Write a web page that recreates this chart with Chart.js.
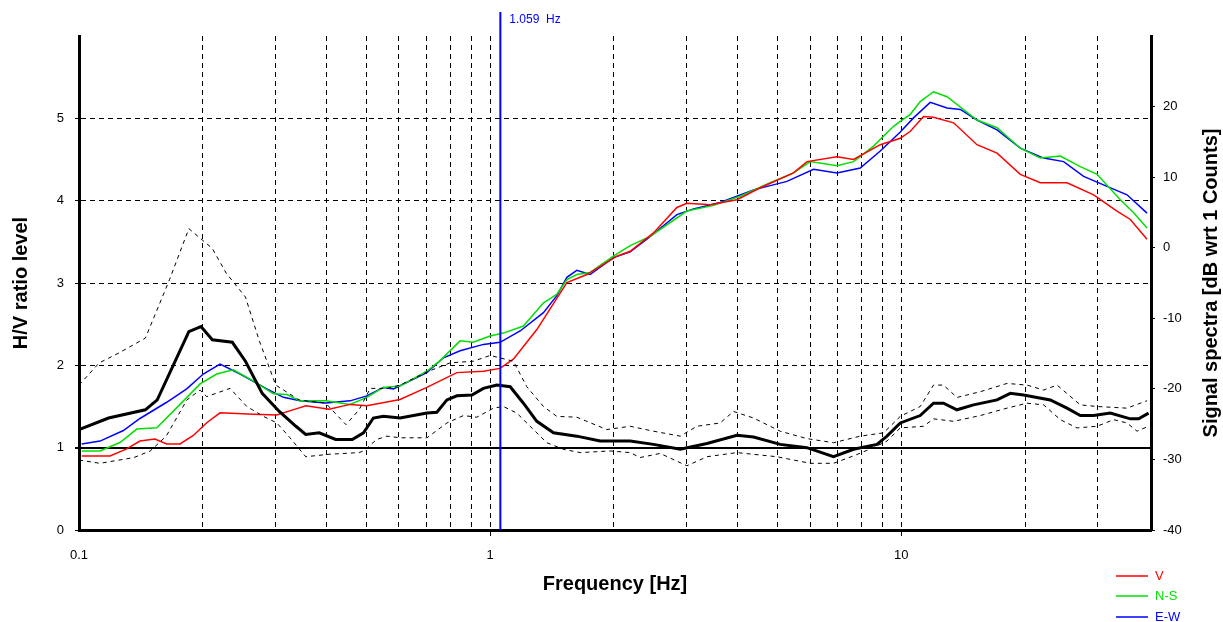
<!DOCTYPE html>
<html>
<head>
<meta charset="utf-8">
<script src="https://cdn.jsdelivr.net/npm/chart.js@4.4.0/dist/chart.umd.min.js"></script>
<style>
  html, body { margin: 0; padding: 0; background: #fff; }
</style>
</head>
<body>
<canvas id="myChart" width="1223" height="622"></canvas>
<script>
// H/V peak marker
const markerFreq = 1.059;

// axis ticks
const xTicks = [0.1, 0.2, 0.3, 0.4, 0.5, 0.6, 0.7, 0.8, 0.9, 1, 2, 3, 4, 5, 6, 7, 8, 9, 10, 20, 30];
const xLabels = [0.1, 1, 10];
const hvTicks = [0, 1, 2, 3, 4, 5, 6];
const dbTicks = [-40, -30, -20, -10, 0, 10, 20, 30];

// H/V ratio (mean) and its +/- std curves
const hvFreq = [0.100, 0.118, 0.145, 0.155, 0.185, 0.198, 0.211, 0.236, 0.254, 0.279, 0.307, 0.337, 0.356, 0.384, 0.421, 0.462, 0.492, 0.520, 0.550, 0.604, 0.702, 0.742, 0.785, 0.830, 0.903, 0.963, 1.038, 1.119, 1.205, 1.299, 1.426, 1.625, 1.852, 2.191, 2.496, 2.900, 3.369, 3.983, 4.372, 5.077, 5.897, 6.844, 7.655, 8.727, 9.231, 9.945, 11.12, 11.98, 12.67, 13.66, 14.99, 17.10, 18.42, 19.84, 23.04, 25.30, 27.26, 29.37, 32.25, 36.07, 37.79, 39.96];
const hvMean = [1.22, 1.36, 1.46, 1.58, 2.41, 2.47, 2.31, 2.28, 2.05, 1.66, 1.44, 1.26, 1.16, 1.18, 1.10, 1.10, 1.18, 1.36, 1.38, 1.36, 1.42, 1.43, 1.58, 1.63, 1.64, 1.72, 1.76, 1.74, 1.54, 1.32, 1.18, 1.14, 1.08, 1.08, 1.04, 0.98, 1.05, 1.15, 1.13, 1.04, 1.00, 0.89, 0.98, 1.04, 1.14, 1.30, 1.39, 1.54, 1.54, 1.46, 1.52, 1.58, 1.66, 1.64, 1.58, 1.48, 1.39, 1.39, 1.42, 1.35, 1.35, 1.42];

const upFreq = [0.100, 0.112, 0.125, 0.145, 0.166, 0.185, 0.211, 0.228, 0.254, 0.274, 0.301, 0.343, 0.398, 0.446, 0.480, 0.511, 0.561, 0.604, 0.702, 0.799, 0.911, 1.000, 1.139, 1.228, 1.348, 1.453, 1.625, 1.922, 2.191, 2.496, 2.900, 3.184, 3.627, 3.908, 4.372, 5.077, 5.897, 6.844, 7.948, 9.057, 9.945, 11.12, 11.98, 12.67, 13.66, 15.57, 18.08, 20.22, 22.20, 23.93, 27.26, 29.94, 35.41, 39.61];
const hvUpper = [1.76, 2.03, 2.15, 2.33, 3.04, 3.66, 3.42, 3.12, 2.83, 2.31, 1.76, 1.58, 1.54, 1.28, 1.46, 1.72, 1.72, 1.76, 1.92, 2.03, 2.05, 2.12, 2.05, 1.74, 1.50, 1.38, 1.37, 1.22, 1.26, 1.20, 1.14, 1.26, 1.30, 1.44, 1.36, 1.20, 1.11, 1.06, 1.14, 1.18, 1.38, 1.50, 1.76, 1.76, 1.61, 1.68, 1.78, 1.76, 1.70, 1.76, 1.52, 1.50, 1.48, 1.57];

const loFreq = [0.100, 0.1125, 0.136, 0.149, 0.163, 0.183, 0.197, 0.2045, 0.233, 0.256, 0.281, 0.303, 0.326, 0.356, 0.406, 0.480, 0.492, 0.530, 0.561, 0.604, 0.702, 0.785, 0.861, 0.928, 1.019, 1.077, 1.161, 1.251, 1.374, 1.508, 1.656, 1.959, 2.191, 2.317, 2.592, 3.010, 3.369, 3.983, 4.984, 6.006, 6.844, 7.655, 8.563, 9.231, 9.945, 11.33, 11.98, 13.41, 15.57, 18.08, 20.22, 22.20, 24.37, 26.76, 29.94, 32.85, 35.41, 37.45, 39.96];
const hvLower = [0.85, 0.81, 0.88, 0.96, 1.14, 1.58, 1.70, 1.62, 1.72, 1.50, 1.38, 1.30, 1.12, 0.89, 0.92, 0.94, 0.96, 1.10, 1.14, 1.12, 1.12, 1.30, 1.39, 1.37, 1.48, 1.50, 1.42, 1.26, 1.06, 0.98, 0.94, 0.96, 0.94, 0.88, 0.93, 0.78, 0.89, 0.94, 0.89, 0.81, 0.81, 0.90, 1.00, 1.08, 1.24, 1.26, 1.35, 1.32, 1.39, 1.48, 1.54, 1.52, 1.34, 1.24, 1.26, 1.34, 1.30, 1.20, 1.26];

// signal spectra [dB] per component
const vFreq = [0.1015, 0.119, 0.1306, 0.1407, 0.153, 0.1634, 0.1761, 0.1897, 0.2045, 0.2203, 0.2656, 0.3026, 0.3387, 0.3562, 0.4058, 0.4565, 0.5012, 0.6039, 0.7015, 0.8299, 0.9632, 1.057, 1.139, 1.299, 1.537, 1.719, 2.034, 2.191, 2.496, 2.847, 3.010, 3.431, 3.983, 4.539, 5.470, 5.897, 6.976, 7.655, 8.891, 9.945, 10.52, 11.33, 11.98, 13.41, 15.28, 17.10, 19.48, 21.79, 25.30, 29.37, 33.48, 36.07, 39.61];
const vSpec = [-29.5, -29.5, -28.5, -27.4, -27.1, -27.8, -27.8, -26.6, -24.8, -23.4, -23.6, -23.7, -22.8, -22.4, -22.9, -22.2, -22.4, -21.5, -19.8, -17.7, -17.5, -17.1, -15.8, -11.6, -4.95, -3.8, -1.2, -0.5, 2.1, 5.7, 6.3, 6.1, 6.8, 8.5, 10.6, 12.2, 12.9, 12.5, 14.6, 15.5, 16.5, 18.6, 18.5, 17.7, 14.6, 13.4, 10.4, 9.2, 9.2, 7.5, 5.2, 4.0, 1.2];

const nsFreq = [0.1015, 0.1125, 0.1258, 0.1382, 0.1546, 0.1761, 0.197, 0.2163, 0.2374, 0.2656, 0.297, 0.3202, 0.345, 0.3984, 0.4565, 0.5012, 0.55, 0.6039, 0.7015, 0.7557, 0.8453, 0.9108, 1.0, 1.077, 1.205, 1.348, 1.453, 1.537, 1.625, 1.751, 1.995, 2.191, 2.451, 3.010, 3.495, 4.058, 4.800, 5.470, 6.006, 6.976, 7.655, 8.563, 9.579, 9.945, 10.52, 11.12, 11.98, 12.92, 15.28, 17.10, 19.48, 21.79, 24.37, 27.26, 29.94, 34.11, 36.75, 39.61];
const nsSpec = [-28.8, -28.8, -27.6, -25.7, -25.5, -22.2, -19.3, -17.9, -17.3, -18.9, -20.7, -20.8, -21.7, -21.7, -22.2, -21.2, -19.8, -19.6, -17.5, -16.0, -13.2, -13.4, -12.5, -12.1, -11.1, -7.8, -6.6, -4.5, -3.8, -3.5, -1.2, 0.3, 1.6, 5.2, 6.0, 7.3, 9.2, 10.6, 12.2, 11.6, 12.2, 14.4, 17.2, 17.9, 18.9, 20.7, 22.1, 21.4, 18.1, 17.0, 14.1, 12.7, 13.0, 11.5, 10.4, 6.8, 4.95, 2.8];

const ewFreq = [0.1015, 0.1125, 0.1282, 0.1407, 0.1634, 0.1828, 0.2006, 0.2203, 0.2465, 0.2863, 0.3141, 0.345, 0.3984, 0.4565, 0.5012, 0.55, 0.5817, 0.7015, 0.7699, 0.8453, 0.9632, 1.057, 1.183, 1.348, 1.453, 1.537, 1.625, 1.751, 1.995, 2.191, 2.406, 2.847, 3.124, 3.627, 4.372, 5.271, 6.118, 6.976, 7.948, 8.891, 9.945, 10.71, 11.76, 12.92, 13.92, 15.28, 17.10, 19.48, 22.20, 24.83, 27.77, 31.66, 35.41, 39.61];
const ewSpec = [-27.8, -27.4, -25.9, -24.2, -21.9, -20.0, -17.9, -16.5, -17.9, -20.0, -21.2, -21.7, -22.0, -21.7, -21.0, -19.8, -20.0, -17.7, -15.6, -14.6, -13.7, -13.4, -11.8, -9.2, -6.8, -4.2, -3.2, -3.8, -1.4, -0.6, 1.2, 4.7, 5.5, 6.4, 8.2, 9.4, 11.1, 10.6, 11.3, 13.7, 16.4, 18.4, 20.6, 19.8, 19.6, 18.1, 16.7, 14.1, 12.7, 12.2, 10.1, 8.7, 7.5, 4.9];

const FONT = "'Liberation Sans', Arial, sans-serif";
const RED = '#ff0000', GREEN = '#00e000', BLUE = '#0000ff';

function pts(xs, ys) {
    return xs.map((f, i) => ({ x: f, y: ys[i] }));
}

// marker line, right axis title and the small legend
const extras = {
    id: 'extras',
    afterDatasetsDraw(chart) {
        const { ctx, chartArea, scales } = chart;
        const x = scales.x.getPixelForValue(markerFreq);
        ctx.save();
        ctx.strokeStyle = BLUE;
        ctx.lineWidth = 2;
        ctx.beginPath();
        ctx.moveTo(x, 12);
        ctx.lineTo(x, chartArea.bottom);
        ctx.stroke();
        ctx.fillStyle = BLUE;
        ctx.font = '12px ' + FONT;
        ctx.textBaseline = 'middle';
        ctx.fillText(markerFreq.toFixed(3) + '  Hz', x + 9, 20);

        // right title reads bottom-to-top like the left one
        ctx.save();
        ctx.translate(1211, (chartArea.top + chartArea.bottom) / 2);
        ctx.rotate(-Math.PI / 2);
        ctx.fillStyle = '#000';
        ctx.font = 'bold 20px ' + FONT;
        ctx.textAlign = 'center';
        ctx.textBaseline = 'middle';
        ctx.fillText('Signal spectra [dB wrt 1 Counts]', 0, 0);
        ctx.restore();

        const items = [['V', RED, 576], ['N-S', GREEN, 596], ['E-W', BLUE, 617]];
        ctx.font = '13px ' + FONT;
        ctx.lineWidth = 1.5;
        items.forEach(([name, col, y]) => {
            ctx.strokeStyle = col;
            ctx.beginPath();
            ctx.moveTo(1116, y);
            ctx.lineTo(1148, y);
            ctx.stroke();
            ctx.fillStyle = col;
            ctx.fillText(name, 1155, y);
        });
        ctx.restore();
    }
};

const ctx = document.getElementById('myChart').getContext('2d');
const myChart = new Chart(ctx, {
    type: 'line',
    data: {
        datasets: [
            { label: 'H/V', data: pts(hvFreq, hvMean), yAxisID: 'y', borderColor: '#000', borderWidth: 3 },
            { label: 'H/V + std', data: pts(upFreq, hvUpper), yAxisID: 'y', borderColor: '#000', borderWidth: 1, borderDash: [4, 4] },
            { label: 'H/V - std', data: pts(loFreq, hvLower), yAxisID: 'y', borderColor: '#000', borderWidth: 1, borderDash: [4, 4] },
            { label: 'V', data: pts(vFreq, vSpec), yAxisID: 'y2', borderColor: RED, borderWidth: 1.5 },
            { label: 'N-S', data: pts(nsFreq, nsSpec), yAxisID: 'y2', borderColor: GREEN, borderWidth: 1.5 },
            { label: 'E-W', data: pts(ewFreq, ewSpec), yAxisID: 'y2', borderColor: BLUE, borderWidth: 1.5 }
        ]
    },
    options: {
        responsive: false,
        animation: false,
        layout: { padding: { top: 36, left: 0, right: 0, bottom: 0 } },
        elements: { point: { radius: 0 }, line: { tension: 0, fill: false } },
        plugins: { legend: { display: false }, tooltip: { enabled: false } },
        scales: {
            x: {
                type: 'logarithmic',
                min: 0.1,
                max: 40.5,
                afterBuildTicks: s => { s.ticks = xTicks.map(v => ({ value: v })); },
                afterFit: s => { s.height = 92; },
                ticks: {
                    autoSkip: false, maxRotation: 0, padding: 12, color: '#000',
                    font: { family: FONT, size: 13 },
                    callback: v => xLabels.includes(v) ? String(v) : ''
                },
                grid: {
                    color: c => (c.tick && c.tick.value > 0.1) ? '#000' : 'rgba(0,0,0,0)',
                    lineWidth: 1,
                    tickLength: 6,
                    tickColor: c => (c.tick && c.tick.value > 0.1 && xLabels.includes(c.tick.value)) ? '#000' : 'rgba(0,0,0,0)'
                },
                border: { color: '#000', width: 3, dash: c => c.tick ? [5, 4] : [] },
                title: {
                    display: true, text: 'Frequency [Hz]', color: '#000',
                    font: { family: FONT, size: 20, weight: 'bold' },
                    padding: { top: 0, bottom: 26 }
                }
            },
            y: {
                position: 'left',
                min: 0,
                max: 6,
                afterBuildTicks: s => { s.ticks = hvTicks.map(v => ({ value: v })); },
                afterFit: s => { s.width = 79; },
                ticks: {
                    padding: 11, color: '#000',
                    font: { family: FONT, size: 13 },
                    callback: v => v === 6 ? '' : String(v)
                },
                grid: {
                    color: c => (!c.tick || c.tick.value === 0 || c.tick.value === 6) ? 'rgba(0,0,0,0)' : '#000',
                    lineWidth: c => (c.tick && c.tick.value === 1) ? 2 : 1,
                    tickLength: 4,
                    tickColor: c => (c.tick && c.tick.value === 6) ? 'rgba(0,0,0,0)' : '#000'
                },
                border: { color: '#000', width: 3, dash: c => (c.tick && c.tick.value !== 1) ? [5, 4] : [] },
                title: {
                    display: true, text: 'H/V ratio level', color: '#000',
                    font: { family: FONT, size: 20, weight: 'bold' },
                    padding: { top: 9, bottom: 0 }
                }
            },
            y2: {
                position: 'right',
                min: -40,
                max: 30,
                afterBuildTicks: s => { s.ticks = dbTicks.map(v => ({ value: v })); },
                afterFit: s => { s.width = 72; },
                ticks: {
                    padding: 8, color: '#000',
                    font: { family: FONT, size: 13 },
                    callback: v => v === 30 ? '' : String(v)
                },
                grid: {
                    drawOnChartArea: false,
                    tickLength: 4,
                    tickColor: c => (c.tick && c.tick.value === 30) ? 'rgba(0,0,0,0)' : '#000'
                },
                border: { color: '#000', width: 3 }
            }
        }
    },
    plugins: [extras]
});
</script>
</body>
</html>
